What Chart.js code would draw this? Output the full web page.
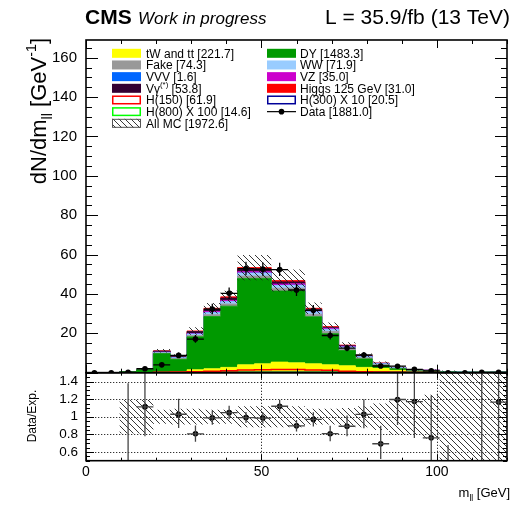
<!DOCTYPE html>
<html>
<head>
<meta charset="utf-8">
<script src="https://cdn.jsdelivr.net/npm/chart.js@4.4.1/dist/chart.umd.min.js"></script>
<style>
  html, body { margin: 0; padding: 0; background: #fff; }
  #wrap { position: relative; width: 511px; height: 508px; }
</style>
</head>
<body>
<div id="wrap"><canvas id="mll" width="511" height="508"></canvas></div>
<script>
// m_ll distribution, 25 bins of 4.8 GeV, values in events / GeV
var binEdges = [0, 4.8, 9.6, 14.4, 19.2, 24, 28.8, 33.6, 38.4, 43.2, 48, 52.8, 57.6,
  62.4, 67.2, 72, 76.8, 81.6, 86.4, 91.2, 96, 100.8, 105.6, 110.4, 115.2, 120];

// stacked backgrounds, bottom to top
var ttbar    = [0,0,0,0.1,0.3,0.6,1.5,2.0,2.7,4.0,4.5,5.4,5.0,4.5,4.0,3.5,2.7,2.2,1.2,0.6,0.4,0.3,0,0.07,0.1];
var dy       = [0,0,0.5,1.45,9.4,6.2,16.7,26.5,31.1,43.9,43.4,36.1,36.6,23.9,15.8,7.8,4.3,1.5,0.8,0.3,0.5,0.1,0,0,0.03];
var fake     = [0,0,0,0.1,0.3,0.4,0.7,1.0,1.1,1.2,1.2,1.4,1.4,1.3,1.2,0.9,0.6,0.4,0.3,0.2,0.2,0.06,0,0,0];
var ww       = [0,0,0,0.05,0.3,0.4,0.7,1.0,1.2,1.5,1.5,1.4,1.4,1.2,1.0,0.8,0.5,0.4,0.25,0.15,0.1,0.05,0,0.05,0.05];
var vvv      = [0,0,0,0,0.01,0.01,0.02,0.03,0.03,0.03,0.03,0.03,0.03,0.02,0.02,0.02,0.01,0.01,0.01,0,0,0,0,0,0];
var vz       = [0,0,0,0,0.1,0.15,0.3,0.5,0.6,0.7,0.7,0.7,0.7,0.6,0.5,0.4,0.3,0.2,0.1,0.1,0.05,0.05,0,0,0];
var vgamma   = [0,0,0,0.1,0.6,0.6,1.0,1.2,1.2,1.3,1.3,1.1,1.0,0.7,0.5,0.3,0.2,0.1,0.05,0.05,0,0,0,0,0];
var higgs125 = [0,0,0,0,0.1,0.2,0.3,0.5,0.6,0.8,0.8,0.7,0.7,0.5,0.4,0.3,0.15,0.1,0.05,0.05,0,0,0,0,0];

// signal hypotheses, drawn as outlines on top
var h150     = [0,0,0,0,0.2,0.3,0.5,0.8,1.0,1.4,1.5,1.6,1.6,1.4,1.2,0.8,0.5,0.3,0.2,0.1,0.05,0,0,0,0];
var h800x100 = [0,0,0,0.05,0.1,0.1,0.1,0.12,0.12,0.13,0.13,0.13,0.14,0.14,0.14,0.14,0.14,0.14,0.14,0.14,0.14,0.14,0.14,0.14,0.14];
var h300x10  = [0,0,0,0,0.05,0.1,0.15,0.2,0.2,0.25,0.25,0.25,0.25,0.25,0.25,0.25,0.25,0.25,0.22,0.2,0.2,0.2,0.18,0.15,0.15];

// relative MC uncertainty per bin
var mcRelUnc = [0,0,0.19,0.19,0.08,0.09,0.09,0.08,0.08,0.12,0.12,0.12,0.12,0.09,0.09,0.1,0.12,0.15,0.2,0.2,0.25,1,1,1,1];

// observed
var dataY      = [0,0,0.21,2.0,4.0,8.8,17.1,32.3,40.3,52.9,52.6,52.4,42.0,31.7,18.9,12.5,9.0,3.4,3.3,1.7,0.95,0,0,0.21,0.21];
var dataErrLo  = [0,0,0.17,0.6,0.9,1.35,1.9,2.6,2.9,3.3,3.3,3.3,3.0,2.6,2.0,1.6,1.4,0.85,0.8,0.6,0.45,0,0,0.17,0.17];
var dataErrHi  = [0.38,0.38,0.48,0.75,1.05,1.5,2.0,2.7,3.0,3.4,3.4,3.4,3.1,2.7,2.1,1.7,1.5,1.0,0.95,0.75,0.6,0.38,0.38,0.48,0.48];

var xTicks = [0, 50, 100];
var yTicks = [20, 40, 60, 80, 100, 120, 140, 160];
var ratioTicks = [0.6, 0.8, 1, 1.2, 1.4];

var FONT = '"Liberation Sans", Arial, Helvetica, sans-serif';

var nBins = binEdges.length - 1;
var centers = [];
for (var i = 0; i < nBins; i++) centers.push((binEdges[i] + binEdges[i + 1]) / 2);

var stackDefs = [
  { label: 'tW and tt', vals: ttbar,    color: '#ffff00' },
  { label: 'DY',        vals: dy,       color: '#009900' },
  { label: 'Fake',      vals: fake,     color: '#999999' },
  { label: 'WW',        vals: ww,       color: '#99ccff' },
  { label: 'VVV',       vals: vvv,      color: '#0066ff' },
  { label: 'VZ',        vals: vz,       color: '#cc00cc' },
  { label: 'Vgamma',    vals: vgamma,   color: '#330033' },
  { label: 'Higgs 125', vals: higgs125, color: '#ff0000' }
];

// cumulative stack
var cumul = [];
var running = binEdges.slice(0, nBins).map(function() { return 0; });
stackDefs.forEach(function(s) {
  running = running.map(function(v, i) { return v + s.vals[i]; });
  cumul.push(running.slice());
});
var mcTotal = running;

function stepPoints(vals) {
  var pts = [];
  for (var i = 0; i < nBins; i++) pts.push({ x: binEdges[i], y: vals[i] });
  pts.push({ x: binEdges[nBins], y: vals[nBins - 1] });
  return pts;
}

function clampR(v) { return Math.max(0.5, Math.min(1.5, v)); }

var ratio = mcTotal.map(function(m, i) { return m > 0 ? dataY[i] / m : null; });
var bandLo = mcTotal.map(function(m, i) { return m * (1 - mcRelUnc[i]); });
var bandHi = mcTotal.map(function(m, i) { return m * (1 + mcRelUnc[i]); });
var rBandLo = mcRelUnc.map(function(u) { return clampR(1 - u); });
var rBandHi = mcRelUnc.map(function(u) { return clampR(1 + u); });

function hatch() {
  var c = document.createElement('canvas');
  c.width = 6; c.height = 6;
  var g = c.getContext('2d');
  g.strokeStyle = '#222';
  g.lineWidth = 0.9;
  g.beginPath();
  g.moveTo(-1, -1); g.lineTo(7, 7);
  g.moveTo(-1, 5); g.lineTo(1, 7);
  g.moveTo(5, -1); g.lineTo(7, 1);
  g.stroke();
  return document.getElementById('mll').getContext('2d').createPattern(c, 'repeat');
}
var hatchFill = hatch();

function histLine(vals, color, yAxis, extra) {
  var ds = {
    data: stepPoints(vals), yAxisID: yAxis || 'y', stepped: true,
    borderColor: color, borderWidth: 1, pointRadius: 0, fill: false, order: 3
  };
  for (var k in extra) ds[k] = extra[k];
  return ds;
}

var datasets = [];
// data points
datasets.push({
  data: centers.map(function(x, i) { return { x: x, y: dataY[i] }; }),
  yAxisID: 'y', showLine: false, pointRadius: 2.8, pointBackgroundColor: '#000',
  pointBorderWidth: 0, order: 0
});
datasets.push({
  data: centers.map(function(x, i) {
    var r = ratio[i];
    return { x: x, y: (r !== null && r >= 0.5 && r <= 1.5) ? r : null };
  }),
  yAxisID: 'yr', showLine: false, pointRadius: 2.8, pointBackgroundColor: '#000',
  pointBorderWidth: 0, order: 0
});
// signals
datasets.push(histLine(h150, '#ff0000', 'y', { borderWidth: 1.5, order: 1 }));
datasets.push(histLine(h800x100, '#00ff00', 'y', { borderWidth: 1.5, order: 1 }));
datasets.push(histLine(h300x10, '#000099', 'y', { borderWidth: 1.5, order: 1 }));
// MC uncertainty, main panel
datasets.push(histLine(bandLo, 'rgba(0,0,0,0)', 'y', { borderWidth: 0, order: 2 }));
datasets.push(histLine(bandHi, 'rgba(0,0,0,0)', 'y', { borderWidth: 0, order: 2, fill: '-1', backgroundColor: hatchFill }));
// MC uncertainty, ratio panel
datasets.push(histLine(rBandLo, 'rgba(0,0,0,0)', 'yr', { borderWidth: 0, order: 2 }));
datasets.push(histLine(rBandHi, 'rgba(0,0,0,0)', 'yr', { borderWidth: 0, order: 2, fill: '-1', backgroundColor: hatchFill }));
// stacked backgrounds
stackDefs.forEach(function(s, k) {
  datasets.push(histLine(cumul[k], s.color, 'y', {
    fill: k === 0 ? 'origin' : '-1', backgroundColor: s.color, borderWidth: 0.8, order: 4 + k
  }));
});

// ROOT style frame, inner ticks, ratio grid, error bars, legend and titles
function tickValues(lo, hi, step) {
  var out = [];
  for (var v = lo; v <= hi + 1e-9; v += step) out.push(Math.round(v * 1000) / 1000);
  return out;
}

function drawRich(ctx, parts, size) {
  var x = 0;
  parts.forEach(function(p) {
    var fs = p.sub || p.sup ? size * 0.65 : size;
    ctx.font = (p.style || '') + ' ' + fs + 'px ' + FONT;
    var dy = p.sub ? size * 0.28 : (p.sup ? -size * 0.45 : 0);
    ctx.fillText(p.t, x, dy);
    x += ctx.measureText(p.t).width;
  });
  return x;
}
function richWidth(ctx, parts, size) {
  var w = 0;
  parts.forEach(function(p) {
    var fs = p.sub || p.sup ? size * 0.65 : size;
    ctx.font = (p.style || '') + ' ' + fs + 'px ' + FONT;
    w += ctx.measureText(p.t).width;
  });
  return w;
}

var rootStyle = {
  id: 'rootStyle',
  beforeDatasetsDraw: function(chart) {
    var ctx = chart.ctx, x = chart.scales.x, yr = chart.scales.yr;
    ctx.save();
    ctx.strokeStyle = '#000';
    ctx.lineWidth = 0.8;
    ctx.setLineDash([1.3, 1.7]);
    ratioTicks.forEach(function(v) {
      var py = Math.round(yr.getPixelForValue(v)) + 0.5;
      ctx.beginPath(); ctx.moveTo(x.left, py); ctx.lineTo(x.right, py); ctx.stroke();
    });
    [50, 100].forEach(function(v) {
      var px = Math.round(x.getPixelForValue(v)) + 0.5;
      ctx.beginPath(); ctx.moveTo(px, yr.top); ctx.lineTo(px, yr.bottom); ctx.stroke();
    });
    ctx.restore();
  },
  afterDatasetsDraw: function(chart) {
    var ctx = chart.ctx, x = chart.scales.x, y = chart.scales.y, yr = chart.scales.yr;
    ctx.save();
    // main panel error bars
    ctx.strokeStyle = '#000';
    ctx.lineWidth = 1.3;
    for (var i = 0; i < nBins; i++) {
      var px = x.getPixelForValue(centers[i]);
      var py = y.getPixelForValue(dataY[i]);
      ctx.beginPath();
      ctx.moveTo(x.getPixelForValue(binEdges[i]), py);
      ctx.lineTo(x.getPixelForValue(binEdges[i + 1]), py);
      ctx.moveTo(px, Math.min(y.bottom, y.getPixelForValue(dataY[i] - dataErrLo[i])));
      ctx.lineTo(px, y.getPixelForValue(dataY[i] + dataErrHi[i]));
      ctx.stroke();
    }
    // ratio panel error bars, clipped to the panel
    ctx.beginPath();
    ctx.rect(x.left, yr.top, x.right - x.left, yr.bottom - yr.top);
    ctx.clip();
    ctx.strokeStyle = '#444';
    for (var j = 0; j < nBins; j++) {
      if (!(mcTotal[j] > 0)) continue;
      var r = ratio[j];
      var qx = x.getPixelForValue(centers[j]);
      var top = yr.getPixelForValue(r + dataErrHi[j] / mcTotal[j]);
      var bot = yr.getPixelForValue(r - dataErrLo[j] / mcTotal[j]);
      ctx.beginPath();
      ctx.moveTo(qx, bot); ctx.lineTo(qx, top);
      if (r >= 0.5 && r <= 1.5) {
        var qy = yr.getPixelForValue(r);
        ctx.moveTo(x.getPixelForValue(binEdges[j]), qy);
        ctx.lineTo(x.getPixelForValue(binEdges[j + 1]), qy);
      }
      ctx.stroke();
    }
    ctx.restore();
  },
  afterDraw: function(chart) {
    var ctx = chart.ctx, x = chart.scales.x, y = chart.scales.y, yr = chart.scales.yr;
    ctx.save();
    ctx.strokeStyle = '#000';
    ctx.fillStyle = '#000';

    // ticks
    ctx.lineWidth = 1;
    function hTicks(vals, len, top, bottom) {
      vals.forEach(function(v) {
        var px = Math.round(x.getPixelForValue(v)) + 0.5;
        ctx.beginPath();
        ctx.moveTo(px, bottom); ctx.lineTo(px, bottom - len);
        ctx.moveTo(px, top); ctx.lineTo(px, top + len);
        ctx.stroke();
      });
    }
    function vTicks(scale, vals, len) {
      vals.forEach(function(v) {
        var py = Math.round(scale.getPixelForValue(v)) + 0.5;
        ctx.beginPath();
        ctx.moveTo(x.left, py); ctx.lineTo(x.left + len, py);
        ctx.moveTo(x.right, py); ctx.lineTo(x.right - len, py);
        ctx.stroke();
      });
    }
    hTicks(tickValues(0, 120, 10), 4, y.top, y.bottom);
    hTicks(tickValues(0, 100, 50), 8, y.top, y.bottom);
    hTicks(tickValues(0, 120, 10), 3, yr.top, yr.bottom);
    hTicks(tickValues(0, 100, 50), 6, yr.top, yr.bottom);
    vTicks(y, tickValues(0, 165, 5), 6);
    vTicks(y, tickValues(0, 160, 20), 12);
    vTicks(yr, tickValues(0.5, 1.5, 0.05), 4);
    vTicks(yr, tickValues(0.6, 1.4, 0.2), 8);

    // frames
    ctx.lineWidth = 1.6;
    ctx.strokeRect(x.left, y.top, x.right - x.left, y.bottom - y.top);
    ctx.strokeRect(x.left, yr.top, x.right - x.left, yr.bottom - yr.top);

    // header
    ctx.textBaseline = 'alphabetic';
    ctx.textAlign = 'left';
    ctx.font = 'bold 21px ' + FONT;
    ctx.fillText('CMS', 85, 24);
    ctx.font = 'italic 17px ' + FONT;
    ctx.fillText('Work in progress', 138, 24);
    ctx.textAlign = 'right';
    ctx.font = '21px ' + FONT;
    ctx.fillText('L = 35.9/fb (13 TeV)', 510, 24);

    // axis titles
    ctx.textAlign = 'left';
    var yTitle = [{ t: 'dN/dm' }, { t: 'll', sub: true }, { t: ' [GeV' }, { t: '-1', sup: true }, { t: ']' }];
    ctx.save();
    ctx.translate(46, 38);
    ctx.rotate(-Math.PI / 2);
    ctx.translate(-richWidth(ctx, yTitle, 22), 0);
    drawRich(ctx, yTitle, 22);
    ctx.restore();

    ctx.save();
    ctx.font = '12px ' + FONT;
    ctx.translate(36, 416);
    ctx.rotate(-Math.PI / 2);
    ctx.textAlign = 'center';
    ctx.fillText('Data/Exp.', 0, 0);
    ctx.restore();

    var xTitle = [{ t: 'm' }, { t: 'll', sub: true }, { t: ' [GeV]' }];
    ctx.save();
    ctx.translate(510 - richWidth(ctx, xTitle, 13), 497);
    drawRich(ctx, xTitle, 13);
    ctx.restore();

    // legend
    var rows = [
      [{ t: 'tW and tt [221.7]', fill: '#ffff00' }, { t: 'DY [1483.3]', fill: '#009900' }],
      [{ t: 'Fake [74.3]', fill: '#999999' }, { t: 'WW [71.9]', fill: '#99ccff' }],
      [{ t: 'VVV [1.6]', fill: '#0066ff' }, { t: 'VZ [35.0]', fill: '#cc00cc' }],
      [{ rich: [{ t: 'V\u03b3' }, { t: '(*)', sup: true }, { t: ' [53.8]' }], fill: '#330033' },
       { t: 'Higgs 125 GeV [31.0]', fill: '#ff0000' }],
      [{ t: 'H(150) [61.9]', line: '#ff0000' }, { t: 'H(300) X 10 [20.5]', line: '#000099' }],
      [{ t: 'H(800) X 100 [14.6]', line: '#00ff00' }, { t: 'Data [1881.0]', data: true }],
      [{ t: 'All MC [1972.6]', hatch: true }]
    ];
    var colBox = [112, 267], colText = [146, 300];
    ctx.textAlign = 'left';
    rows.forEach(function(row, r) {
      var cy = 53.3 + r * 11.67;
      row.forEach(function(e, c) {
        var bx = colBox[c], bw = 29, bh = 9;
        if (e.fill) {
          ctx.fillStyle = e.fill;
          ctx.fillRect(bx, cy - bh / 2, bw, bh);
        } else if (e.line) {
          ctx.fillStyle = '#fff';
          ctx.fillRect(bx, cy - bh / 2, bw, bh);
          ctx.strokeStyle = e.line; ctx.lineWidth = 1.5;
          ctx.strokeRect(bx + 0.75, cy - bh / 2 + 0.75, bw - 1.5, bh - 1.5);
        } else if (e.hatch) {
          ctx.fillStyle = hatchFill;
          ctx.fillRect(bx, cy - bh / 2, bw, bh);
          ctx.strokeStyle = '#555'; ctx.lineWidth = 1;
          ctx.strokeRect(bx + 0.5, cy - bh / 2 + 0.5, bw - 1, bh - 1);
        } else if (e.data) {
          ctx.strokeStyle = '#000'; ctx.lineWidth = 1.2;
          ctx.beginPath(); ctx.moveTo(bx, cy); ctx.lineTo(bx + bw, cy); ctx.stroke();
          ctx.fillStyle = '#000';
          ctx.beginPath(); ctx.arc(bx + bw / 2, cy, 2.8, 0, Math.PI * 2); ctx.fill();
        }
        ctx.fillStyle = '#000';
        ctx.save();
        ctx.translate(colText[c], cy + 4.3);
        drawRich(ctx, e.rich || [{ t: e.t }], 12);
        ctx.restore();
      });
    });
    ctx.restore();
  }
};

new Chart(document.getElementById('mll'), {
  type: 'line',
  data: { datasets: datasets },
  options: {
    responsive: false,
    animation: false,
    devicePixelRatio: 1,
    layout: { padding: { left: 0, right: 2, top: 40, bottom: 0 } },
    plugins: { legend: { display: false }, tooltip: { enabled: false } },
    scales: {
      x: {
        type: 'linear', min: 0, max: 120,
        afterBuildTicks: function(s) { s.ticks = xTicks.map(function(v) { return { value: v }; }); },
        afterFit: function(s) { s.height = 47.3; },
        ticks: { font: { family: FONT, size: 14 }, color: '#000', padding: 3, maxRotation: 0, autoSkip: false },
        grid: { display: false, drawTicks: false },
        border: { display: false }
      },
      // ratio panel first so it sits at the bottom of the stacked axes
      yr: {
        type: 'linear', position: 'left', stack: 'panels', stackWeight: 88,
        min: 0.5, max: 1.5,
        afterBuildTicks: function(s) { s.ticks = ratioTicks.map(function(v) { return { value: v }; }); },
        afterFit: function(s) { s.width = 86; },
        ticks: {
          font: { family: FONT, size: 13.5 }, color: '#000', padding: 8, autoSkip: false,
          callback: function(v) { return String(v); }
        },
        grid: { display: false, drawTicks: false },
        border: { display: false }
      },
      y: {
        type: 'linear', position: 'left', stack: 'panels', stackWeight: 332.7,
        min: 0, max: 169,
        afterBuildTicks: function(s) { s.ticks = yTicks.map(function(v) { return { value: v }; }); },
        afterFit: function(s) { s.width = 86; },
        ticks: { font: { family: FONT, size: 15 }, color: '#000', padding: 9, autoSkip: false },
        grid: { display: false, drawTicks: false },
        border: { display: false }
      }
    }
  },
  plugins: [rootStyle]
});
</script>
</body>
</html>
